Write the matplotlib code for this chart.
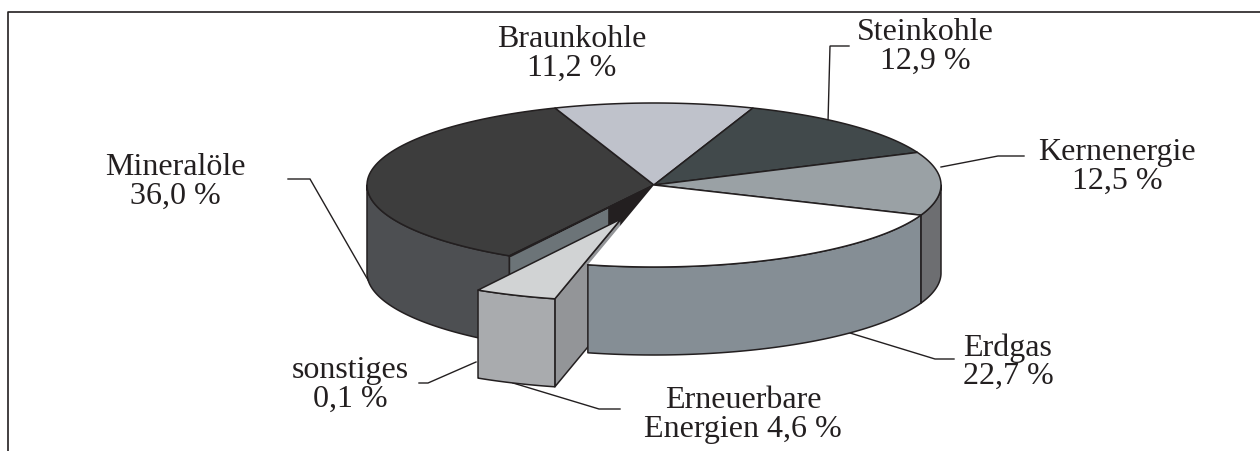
import numpy as np
import matplotlib
matplotlib.use("Agg")
import matplotlib.pyplot as plt
from matplotlib.patches import Polygon

names = ["Braunkohle", "Steinkohle", "Kernenergie", "Erdgas", "Erneuerbare", "sonstiges", "Mineralöle"]
values = [11.2, 12.9, 12.5, 22.7, 4.6, 0.1, 36.0]
label_texts = ["Braunkohle\n11,2 %", "Steinkohle\n12,9 %", "Kernenergie\n12,5 %", "Erdgas\n22,7 %",
               "Erneuerbare\nEnergien 4,6 %", "sonstiges\n0,1 %", "Mineralöle\n36,0 %"]
label_x = [572, 925, 1117, 1008, 743, 350, 175]
label_y = [54, 47, 167, 362, 415, 385, 182]
top_colors = ["#bfc2cb", "#41494b", "#9aa1a5", "#ffffff", "#d1d3d4", "#3d3d3d", "#3d3d3d"]
wall_colors = {"Kernenergie": "#6d6e71", "Erdgas": "#858e95", "Erneuerbare": "#a9abae", "Mineralöle": "#4d4f52"}
leaders = [
    [(828, 122), (830, 46), (849, 46)],
    [(941, 167), (998, 156), (1024, 156)],
    [(850, 333), (935, 359), (954, 359)],
    [(513, 383), (599, 409), (620, 409)],
    [(419, 383), (428, 383), (476, 362)],
    [(288, 179), (310, 179), (368, 280)],
]

CX, CY, RX, RY, DEPTH = 654, 185, 287, 82, 88
OFF = (-33, 34)
INK = "#231f20"
LW = 1.1

fig = plt.figure(figsize=(12.6, 4.51), dpi=100)
ax = fig.add_axes([0, 0, 1, 1])
ax.set_xlim(0, 1260)
ax.set_ylim(451, 0)
ax.axis("off")

# open frame
ax.plot([7.5, 7.5, 1260], [451, 11.5, 11.5], color=INK, lw=1.2, zorder=1)

# slice angles, clockwise, Braunkohle centred at the top
ang = 90 + values[0] * 1.8 - np.cumsum([0] + values) * 3.6
bounds = {n: (ang[i], ang[i + 1]) for i, n in enumerate(names)}


def rim(a0, a1, dx=0, dy=0, n=80):
    t = np.radians(np.linspace(a0, a1, n))
    return np.column_stack([CX + dx + RX * np.cos(t), CY + dy - RY * np.sin(t)])


def poly(pts, color, z):
    ax.add_patch(Polygon(pts, closed=True, facecolor=color, edgecolor=INK, lw=LW, joinstyle="round", zorder=z))


def top(name, z, dx=0, dy=0):
    a0, a1 = bounds[name]
    poly(np.vstack([[CX + dx, CY + dy], rim(a0, a1, dx, dy)]), top_colors[names.index(name)], z)


def wall(a0, a1, color, z, dx=0, dy=0):
    r = rim(a0, a1, dx, dy)
    poly(np.vstack([r, (r + [0, DEPTH])[::-1]]), color, z)


# back: left wall and far tops
m0, m1 = bounds["Mineralöle"]
wall(m0, -180, wall_colors["Mineralöle"], 2)
for n in ["Mineralöle", "Braunkohle", "Steinkohle", "sonstiges"]:
    top(n, 3)

# cut faces visible in the gap
edge = rim(m0, m0, n=1)[0]
centre = np.array([CX, CY])
split = centre + (edge - centre) * 0.31
down = np.array([0, DEPTH])
poly([edge, split, split + down, edge + down], "#6c7478", 2.5)
poly([split, centre, centre + down, split + down], "#231f20", 2.5)

# exploded slice
e0, e1 = bounds["Erneuerbare"]
apex = centre + OFF
p = rim(e0, e0, *OFF, n=1)[0]
poly([p, apex, apex + down, p + down], "#939598", 4)
wall(e0, e1, wall_colors["Erneuerbare"], 4.5, *OFF)
top("Erneuerbare", 5, *OFF)

# front of the main body
g0, g1 = bounds["Erdgas"]
k0, k1 = bounds["Kernenergie"]
wall(0, k1, wall_colors["Kernenergie"], 6)
wall(k1, g1, wall_colors["Erdgas"], 6)
top("Kernenergie", 7)
a0, a1 = bounds["Erdgas"]
r = rim(a0, a1)
ax.add_patch(Polygon(np.vstack([centre, r]), closed=True, facecolor="white", edgecolor="none", zorder=7))
ax.plot(r[:, 0], r[:, 1], color=INK, lw=LW, zorder=7.5)
ax.plot([CX, r[0, 0]], [CY, r[0, 1]], color=INK, lw=LW, zorder=7.5)

# leaders and labels
for pts in leaders:
    xs, ys = zip(*pts)
    ax.plot(xs, ys, color=INK, lw=1.0, zorder=1.5 if pts[0][0] > 800 else 3.5, solid_joinstyle="miter")
for x, y, s in zip(label_x, label_y, label_texts):
    ax.text(x, y, s, ha="center", va="center", ma="center", color=INK, fontsize=23,
            family="Liberation Serif", linespacing=0.96, zorder=9)

fig.savefig("out.png", dpi=100)
